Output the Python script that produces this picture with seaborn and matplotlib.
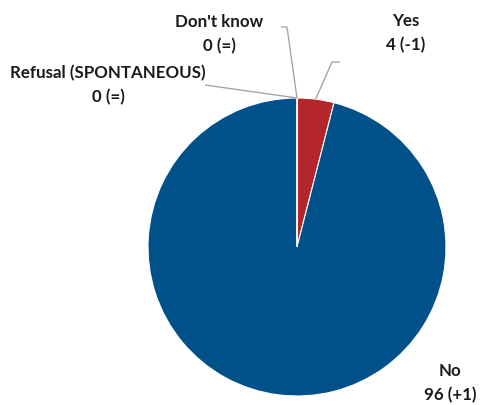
import numpy as np
import matplotlib
matplotlib.use("Agg")
import matplotlib.pyplot as plt
import seaborn as sns

categories = ["Yes", "No", "Refusal (SPONTANEOUS)", "Don't know"]
values = [4, 96, 0, 0]
changes = ["(-1)", "(+1)", "(=)", "(=)"]
colors = ["#B2262C", "#00508A", "#7F7F7F", "#A5A5A5"]

sns.set_theme(style="white")
plt.rcParams["font.family"] = ["Lato", "DejaVu Sans"]

W, H = 481, 405
fig = plt.figure(figsize=(W / 100, H / 100), dpi=100)
ax = fig.add_axes([0, 0, 1, 1])

cx, cy, r = 297, 158, 149
wedges, _ = ax.pie(values, colors=colors, startangle=90, counterclock=False,
                   center=(cx, cy), radius=r, frame=True,
                   wedgeprops=dict(edgecolor="white", linewidth=0.8))
ax.set_xlim(0, W)
ax.set_ylim(0, H)
ax.set_aspect("equal")
ax.axis("off")

# label anchors (text centre) and leader-line elbows
label_xy = {"Yes": (406, 372), "No": (450, 22),
            "Refusal (SPONTANEOUS)": (108, 320), "Don't know": (219, 371)}
elbows = {"Yes": [(332, 343), (340, 343)],
          "Refusal (SPONTANEOUS)": [(205, 320)],
          "Don't know": [(287, 378), (281, 378)]}

for w, cat, v, ch in zip(wedges, categories, values, changes):
    mid = np.deg2rad((w.theta1 + w.theta2) / 2)
    px, py = cx + r * np.cos(mid), cy + r * np.sin(mid)
    if cat in elbows:
        pts = [(px, py)] + elbows[cat]
        ax.plot([p[0] for p in pts], [p[1] for p in pts], color="#A6A6A6",
                lw=1, solid_capstyle="butt")
    tx, ty = label_xy[cat]
    ax.text(tx, ty, f"{cat}\n{v} {ch}", ha="center", va="center",
            fontsize=12.2, fontweight="bold", color="#1A1A1A", linespacing=1.6)

fig.savefig("out.png", dpi=100)
